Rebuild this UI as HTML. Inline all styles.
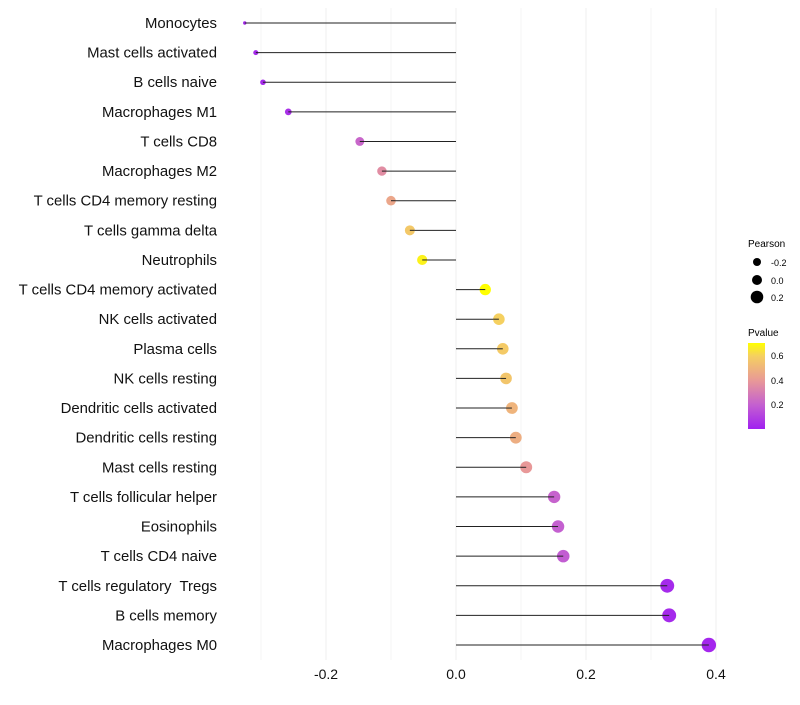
<!DOCTYPE html>
<html><head><meta charset="utf-8"><style>
body{margin:0;background:#fff;font-family:"Liberation Sans",sans-serif;}
svg text{font-family:"Liberation Sans",sans-serif;}
</style></head><body>
<svg id="chart" width="800" height="700" xmlns="http://www.w3.org/2000/svg">
<defs><linearGradient id="pg" x1="0" y1="1" x2="0" y2="0">
<stop offset="0" stop-color="#a020f0"/><stop offset="0.28" stop-color="#c460d0"/><stop offset="0.56" stop-color="#e89898"/><stop offset="0.85" stop-color="#f5d060"/><stop offset="1" stop-color="#ffff00"/></linearGradient></defs>
<g id="grid"></g>
<g id="marks"></g>
<g id="labels"></g>
<g id="xt"></g>
<g>
<text x="748" y="247" font-size="10">Pearson</text>
<circle cx="757" cy="262" r="4" fill="#000"/><text x="771" y="266" font-size="9">-0.2</text>
<circle cx="757" cy="280" r="5" fill="#000"/><text x="771" y="284" font-size="9">0.0</text>
<circle cx="757" cy="297" r="6.3" fill="#000"/><text x="771" y="301" font-size="9">0.2</text>
</g>
<g>
<text x="748" y="336" font-size="10">Pvalue</text>
<rect x="748" y="343" width="17" height="86" fill="url(#pg)"/>
<text x="771" y="359" font-size="9">0.6</text><text x="771" y="384" font-size="9">0.4</text><text x="771" y="408" font-size="9">0.2</text>
</g>
</svg>
<script>
const categories=["Monocytes","Mast cells activated","B cells naive","Macrophages M1","T cells CD8","Macrophages M2","T cells CD4 memory resting","T cells gamma delta","Neutrophils","T cells CD4 memory activated","NK cells activated","Plasma cells","NK cells resting","Dendritic cells activated","Dendritic cells resting","Mast cells resting","T cells follicular helper","Eosinophils","T cells CD4 naive","T cells regulatory  Tregs","B cells memory","Macrophages M0"];
const pearson=[-0.325,-0.308,-0.297,-0.258,-0.148,-0.114,-0.1,-0.071,-0.052,0.045,0.066,0.072,0.077,0.086,0.092,0.108,0.151,0.157,0.165,0.325,0.328,0.389];
const pvalues=[0.02,0.03,0.03,0.05,0.22,0.36,0.45,0.57,0.68,0.71,0.6,0.58,0.56,0.5,0.48,0.4,0.21,0.2,0.19,0.03,0.03,0.02];
const xTicks=[-0.2,0,0.2,0.4];
const xTickLabels=["-0.2","0.0","0.2","0.4"];
const xMinor=[-0.3,-0.1,0.1,0.3];
const NS="http://www.w3.org/2000/svg";
const X=v=>456+v*650;
const n=categories.length;
function mk(t,a,p){const e=document.createElementNS(NS,t);for(const k in a)e.setAttribute(k,a[k]);p.appendChild(e);return e;}
function lerp(a,b,t){return a.map((x,i)=>Math.round(x+(b[i]-x)*t));}
function col(p){const s=[[0,[160,32,240]],[0.2,[196,96,208]],[0.4,[232,152,152]],[0.6,[245,208,96]],[0.71,[255,255,0]]];
 p=Math.max(0,Math.min(0.71,p));for(let i=1;i<s.length;i++){if(p<=s[i][0]){const t=(p-s[i-1][0])/(s[i][0]-s[i-1][0]);return "rgb("+lerp(s[i-1][1],s[i][1],t).join(",")+")";}}return "rgb(255,255,0)";}
const pmin=Math.min(...pearson),pmax=Math.max(...pearson);
const R=v=>1.7+5.5*Math.sqrt((v-pmin)/(pmax-pmin));
const grid=document.getElementById('grid'),marks=document.getElementById('marks'),labs=document.getElementById('labels'),xt=document.getElementById('xt');
const yTop=8,yBot=660;
xMinor.forEach(v=>{const l=mk('line',{x1:X(v),x2:X(v),y1:yTop,y2:yBot,stroke:'#f4f4f4','stroke-width':1},grid);

});
xTicks.forEach((v,i)=>{const l=mk('line',{x1:X(v),x2:X(v),y1:yTop,y2:yBot,stroke:'#efefef','stroke-width':1},grid);


const t=mk('text',{x:X(v),y:679,'font-size':14,'text-anchor':'middle',fill:'#111'},xt);t.textContent=xTickLabels[i];

});
categories.forEach((c,i)=>{const y=23+i*(645-23)/(n-1);
const t=mk('text',{x:217,y:y+5,'font-size':14.9,'text-anchor':'end',fill:'#111'},labs);t.textContent=c;


t.style.whiteSpace='pre';
const l=mk('line',{x1:X(0),x2:X(pearson[i]),y1:y,y2:y,stroke:'#222','stroke-width':1},marks);


const d=mk('circle',{cx:X(pearson[i]),cy:y,r:R(pearson[i]),fill:col(pvalues[i])},marks);


const s=mk('line',{x1:X(pearson[i])+(pearson[i]<0?0:-R(pearson[i])),x2:X(pearson[i])+(pearson[i]<0?R(pearson[i]):0),y1:y,y2:y,stroke:'#222','stroke-width':1},marks);

});
</script>
</body></html>
